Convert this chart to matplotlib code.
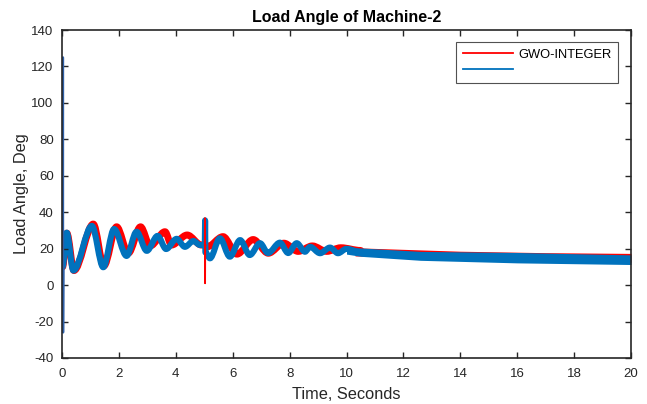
import matplotlib
matplotlib.use("Agg")
import matplotlib.pyplot as plt
from matplotlib.lines import Line2D
from matplotlib.path import Path
from matplotlib.patches import PathPatch

plt.rcParams['font.family'] = ['Liberation Sans', 'DejaVu Sans']
plt.rcParams['axes.unicode_minus'] = False

# ---- data ----
# GWO-INTEGER (red) main oscillation
red_t = [0.02, 0.17, 0.42, 1.10, 1.47, 1.92, 2.33, 2.76, 3.10, 3.62, 3.85, 4.40, 4.90, 5.03,
         5.10, 5.66, 6.15, 6.72, 7.25, 7.80, 8.30, 8.80, 9.30, 9.80, 10.5]
red_y = [10, 28.5, 8.0, 33.5, 10.5, 32.0, 17.5, 32.0, 21.5, 29.3, 22.0, 27.5, 22.0, 22.5,
         21.0, 26.6, 17.0, 25.0, 17.5, 23.0, 18.5, 21.5, 18.5, 20.5, 19.0]
# red fault spike
red_spike_t = [5.02, 5.025, 5.03, 5.035, 5.04]
red_spike_y = [22.0, 36.8, 1.0, 22.0, 22.0]
# red late band (upper/lower envelope)
red_band_t = [10.3, 14.0, 17.0, 20.0]
red_band_hi = [20.5, 18.6, 17.8, 17.4]
red_band_lo = [16.0, 14.5, 13.5, 12.5]

# second series (blue)
blue_t = [0.02, 0.165, 0.40, 1.05, 1.45, 1.83, 2.27, 2.62, 2.98, 3.36, 3.66, 4.03, 4.32, 4.62,
          4.85, 5.02, 5.03, 5.04, 5.20, 5.55, 5.90, 6.26, 6.60, 6.96, 7.24, 7.66, 7.95, 8.25,
          8.54, 8.72, 9.07, 9.42, 9.70, 10.0, 10.5]
blue_y = [10, 28.8, 8.0, 32.5, 9.8, 30.8, 16.0, 29.3, 18.8, 27.0, 19.8, 25.4, 21.0, 24.2,
          22.0, 22.0, 35.5, 18.0, 14.7, 25.7, 15.6, 24.7, 16.5, 23.0, 17.6, 23.3, 17.6, 23.0,
          18.3, 21.0, 17.5, 20.6, 17.5, 19.9, 18.1]
# initial transient spike at t=0
blue_spike_t = [0.03, 0.035, 0.04, 0.05]
blue_spike_y = [20.0, 125.0, -26.0, 10.0]
# blue late band (upper/lower envelope)
blue_band_t = [10.0, 10.5, 12.6, 16.0, 20.0]
blue_band_hi = [20.5, 20.4, 18.5, 17.9, 16.6]
blue_band_lo = [17.0, 15.8, 13.6, 12.2, 11.3]

legend_labels = ['GWO-INTEGER', '']
RED = '#FF0000'
BLUE = '#0072BD'


def smooth_path(t, y):
    """Bezier path through the read points with horizontal tangents (peak/trough shape)."""
    verts = [(t[0], y[0])]
    codes = [Path.MOVETO]
    for i in range(len(t) - 1):
        dt = (t[i + 1] - t[i]) / 3.0
        verts += [(t[i] + dt, y[i]), (t[i + 1] - dt, y[i + 1]), (t[i + 1], y[i + 1])]
        codes += [Path.CURVE4] * 3
    return Path(verts, codes)


fig = plt.figure(figsize=(6.47, 4.04), dpi=100)
ax = fig.add_axes([0.0958, 0.1139, 0.8795, 0.8118])

ax.fill_between(red_band_t, red_band_lo, red_band_hi, color=RED, lw=0)
ax.add_patch(PathPatch(smooth_path(red_t, red_y), fill=False, edgecolor=RED, lw=5.0,
                       capstyle='round', joinstyle='round'))
ax.plot(red_spike_t, red_spike_y, color=RED, lw=1.3)

ax.fill_between(blue_band_t, blue_band_lo, blue_band_hi, color=BLUE, lw=0)
ax.add_patch(PathPatch(smooth_path(blue_t, blue_y), fill=False, edgecolor=BLUE, lw=4.4,
                       capstyle='round', joinstyle='round'))
ax.plot(blue_spike_t, blue_spike_y, color='#2f5fa6', lw=1.6)

ax.set_xlim(0, 20)
ax.set_ylim(-40, 140)
ax.set_xticks(range(0, 21, 2))
ax.set_yticks(range(-40, 141, 20))
ax.tick_params(direction='in', top=True, right=True, labelsize=9.5, length=4, width=1,
               colors='#262626')
ax.tick_params(axis='x', pad=7)
ax.tick_params(axis='y', pad=6)
for s in ax.spines.values():
    s.set_linewidth(1.2)
    s.set_color('#262626')

ax.set_title('Load Angle of Machine-2', fontsize=11.5, fontweight='bold', pad=6)
ax.set_xlabel('Time, Seconds', fontsize=11.8, color='#262626', labelpad=5)
ax.set_ylabel('Load Angle, Deg', fontsize=11.8, color='#262626', labelpad=2)

handles = [Line2D([0], [0], color=RED, lw=1.3), Line2D([0], [0], color=BLUE, lw=1.3)]
leg = ax.legend(handles, legend_labels, loc='upper right', bbox_to_anchor=(0.977, 0.963),
                prop={'size': 9.3}, frameon=True, fancybox=False, edgecolor='#262626',
                borderaxespad=0, borderpad=0.5, handlelength=3.9, handletextpad=0.4,
                labelspacing=0.3)
leg.get_frame().set_linewidth(0.8)

fig.savefig('out.png', dpi=100)
